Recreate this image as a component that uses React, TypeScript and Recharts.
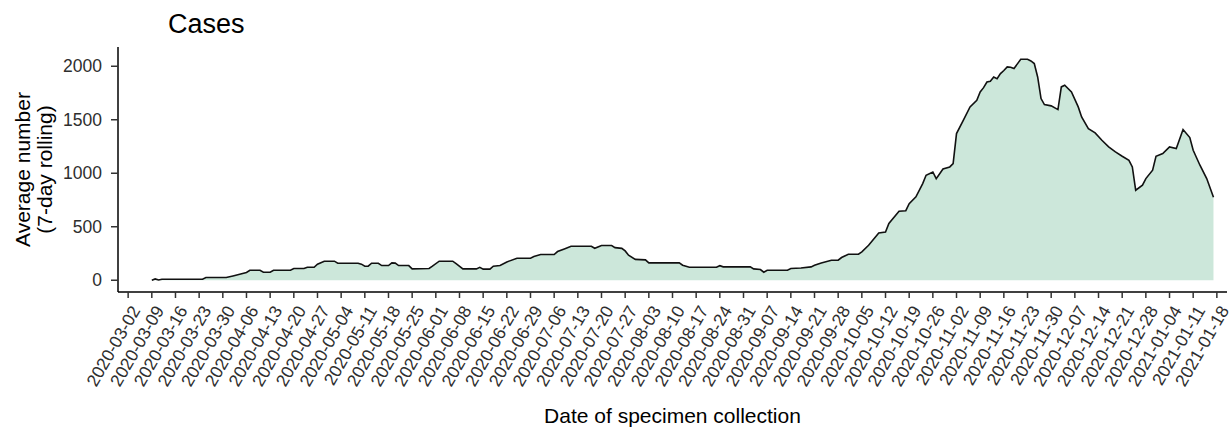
import { Area, AreaChart, XAxis, YAxis } from "recharts"

const FONT = '"Liberation Sans", Arial, sans-serif'

// dates of specimen collection
const dates = [
  "2020-03-09", "2020-03-10", "2020-03-11", "2020-03-12", "2020-03-24", "2020-03-25", "2020-03-31",
  "2020-04-02", "2020-04-04", "2020-04-06", "2020-04-07", "2020-04-10", "2020-04-11", "2020-04-13",
  "2020-04-14", "2020-04-19", "2020-04-20", "2020-04-23", "2020-04-24", "2020-04-26", "2020-04-27",
  "2020-04-29", "2020-05-02", "2020-05-03", "2020-05-09", "2020-05-10", "2020-05-11", "2020-05-12",
  "2020-05-13", "2020-05-15", "2020-05-16", "2020-05-18", "2020-05-19", "2020-05-20", "2020-05-21",
  "2020-05-24", "2020-05-25", "2020-05-30", "2020-05-31", "2020-06-02", "2020-06-06", "2020-06-07",
  "2020-06-09", "2020-06-13", "2020-06-14", "2020-06-15", "2020-06-17", "2020-06-18", "2020-06-20",
  "2020-06-22", "2020-06-25", "2020-06-29", "2020-06-30", "2020-07-02", "2020-07-06", "2020-07-07",
  "2020-07-09", "2020-07-11", "2020-07-17", "2020-07-18", "2020-07-20", "2020-07-23", "2020-07-24",
  "2020-07-26", "2020-07-27", "2020-07-28", "2020-07-30", "2020-08-02", "2020-08-03", "2020-08-12",
  "2020-08-13", "2020-08-15", "2020-08-23", "2020-08-24", "2020-08-25", "2020-09-02", "2020-09-03",
  "2020-09-05", "2020-09-06", "2020-09-07", "2020-09-13", "2020-09-14", "2020-09-17", "2020-09-20",
  "2020-09-21", "2020-09-23", "2020-09-26", "2020-09-28", "2020-09-29", "2020-10-01", "2020-10-04",
  "2020-10-05", "2020-10-07", "2020-10-10", "2020-10-12", "2020-10-13", "2020-10-16", "2020-10-18",
  "2020-10-19", "2020-10-21", "2020-10-23", "2020-10-24", "2020-10-26", "2020-10-27", "2020-10-29",
  "2020-10-31", "2020-11-01", "2020-11-02", "2020-11-04", "2020-11-06", "2020-11-08", "2020-11-09",
  "2020-11-10", "2020-11-11", "2020-11-12", "2020-11-13", "2020-11-14", "2020-11-15", "2020-11-16",
  "2020-11-17", "2020-11-18", "2020-11-19", "2020-11-21", "2020-11-23", "2020-11-24", "2020-11-25",
  "2020-11-26", "2020-11-27", "2020-11-28", "2020-11-30", "2020-12-02", "2020-12-03", "2020-12-04",
  "2020-12-06", "2020-12-08", "2020-12-09", "2020-12-11", "2020-12-13", "2020-12-15", "2020-12-17",
  "2020-12-19", "2020-12-21", "2020-12-23", "2020-12-24", "2020-12-25", "2020-12-27", "2020-12-28",
  "2020-12-30", "2020-12-31", "2021-01-02", "2021-01-04", "2021-01-06", "2021-01-08", "2021-01-10",
  "2021-01-11", "2021-01-13", "2021-01-15", "2021-01-17",
]

const cases = [
  0, 12, 2, 9, 9, 25, 25,
  40, 56, 72, 93, 93, 75, 75,
  93, 93, 109, 109, 121, 121, 150,
  178, 178, 159, 159, 150, 131, 131,
  159, 159, 137, 137, 162, 160, 137,
  137, 106, 110, 131, 178, 178, 155,
  106, 106, 121, 104, 104, 131, 137,
  171, 206, 206, 221, 240, 240, 268,
  293, 318, 318, 299, 324, 324, 305,
  298, 274, 234, 195, 190, 162, 162,
  140, 121, 121, 136, 125, 125, 106,
  100, 75, 93, 93, 109, 115, 125,
  140, 162, 187, 187, 212, 243, 243,
  265, 327, 442, 450, 530, 645, 650,
  716, 779, 903, 981, 1012, 950, 1040,
  1059, 1090, 1371, 1495, 1620, 1682, 1760,
  1800, 1853, 1860, 1900, 1884, 1931, 1960,
  1994, 1990, 1979, 2065, 2065, 2050, 2025,
  1900, 1698, 1642, 1630, 1595, 1807, 1822,
  1760, 1620, 1526, 1417, 1377, 1308, 1246,
  1199, 1159, 1121, 1059, 841, 888, 950,
  1028, 1159, 1184, 1246, 1231, 1408, 1334,
  1215, 1075, 950, 775,
]

const weekTicks = [
  "2020-03-02", "2020-03-09", "2020-03-16", "2020-03-23", "2020-03-30", "2020-04-06", "2020-04-13",
  "2020-04-20", "2020-04-27", "2020-05-04", "2020-05-11", "2020-05-18", "2020-05-25", "2020-06-01",
  "2020-06-08", "2020-06-15", "2020-06-22", "2020-06-29", "2020-07-06", "2020-07-13", "2020-07-20",
  "2020-07-27", "2020-08-03", "2020-08-10", "2020-08-17", "2020-08-24", "2020-08-31", "2020-09-07",
  "2020-09-14", "2020-09-21", "2020-09-28", "2020-10-05", "2020-10-12", "2020-10-19", "2020-10-26",
  "2020-11-02", "2020-11-09", "2020-11-16", "2020-11-23", "2020-11-30", "2020-12-07", "2020-12-14",
  "2020-12-21", "2020-12-28", "2021-01-04", "2021-01-11", "2021-01-18",
]

const yTicks = [0, 500, 1000, 1500, 2000]

const DAY = 86400000
const data = dates.map((d, i) => ({ t: Date.parse(d), cases: cases[i] }))
const tickTimes = weekTicks.map((d) => Date.parse(d))
const xDomain = [tickTimes[0] - 3 * DAY, tickTimes[tickTimes.length - 1] + 3 * DAY]

function DateTick({ x, y, payload }: any) {
  const ax = x + 2
  const ay = y + 6
  const label = new Date(payload.value).toISOString().slice(0, 10)
  return (
    <text
      x={ax}
      y={ay}
      dy="0.71em"
      textAnchor="end"
      transform={`rotate(-60, ${ax}, ${ay})`}
      fill="#2e2e2e"
      fontSize={17.5}
      fontFamily={FONT}
    >
      {label}
    </text>
  )
}

export default function App() {
  return (
    <div style={{ position: "absolute", left: 0, top: 0, width: 1232, height: 427, background: "#fff" }}>
      <AreaChart width={1232} height={427} data={data} margin={{ top: 47, right: 5, bottom: 0, left: 0 }}>
        <XAxis
          dataKey="t"
          type="number"
          domain={xDomain}
          ticks={tickTimes}
          interval={0}
          allowDataOverflow
          height={135}
          tickSize={6}
          tickMargin={0}
          axisLine={{ stroke: "#000", strokeWidth: 1.5 }}
          tickLine={{ stroke: "#333", strokeWidth: 1.5 }}
          tick={<DateTick />}
        />
        <YAxis
          type="number"
          domain={[-110, 2180]}
          ticks={yTicks}
          allowDataOverflow
          width={118}
          tickSize={7}
          tickMargin={9}
          axisLine={{ stroke: "#000", strokeWidth: 1.5 }}
          tickLine={{ stroke: "#333", strokeWidth: 1.5 }}
          tick={{ fill: "#2e2e2e", fontSize: 17.5, fontFamily: FONT }}
        />
        <Area
          dataKey="cases"
          type="linear"
          baseValue={0}
          stroke="#111"
          strokeWidth={1.6}
          fill="#cce7da"
          fillOpacity={1}
          dot={false}
          activeDot={false}
          isAnimationActive={false}
        />
      </AreaChart>
      <svg
        width={1232}
        height={427}
        style={{ position: "absolute", left: 0, top: 0, pointerEvents: "none" }}
        fontFamily={FONT}
      >
        <text x={168} y={33} fontSize={27} fill="#000">
          Cases
        </text>
        <text transform="translate(30, 169.5) rotate(-90)" textAnchor="middle" fontSize={21} fill="#000">
          Average number
        </text>
        <text transform="translate(52, 169.5) rotate(-90)" textAnchor="middle" fontSize={21} fill="#000">
          (7-day rolling)
        </text>
        <text x={672.5} y={423} textAnchor="middle" fontSize={21} fill="#000">
          Date of specimen collection
        </text>
      </svg>
    </div>
  )
}
